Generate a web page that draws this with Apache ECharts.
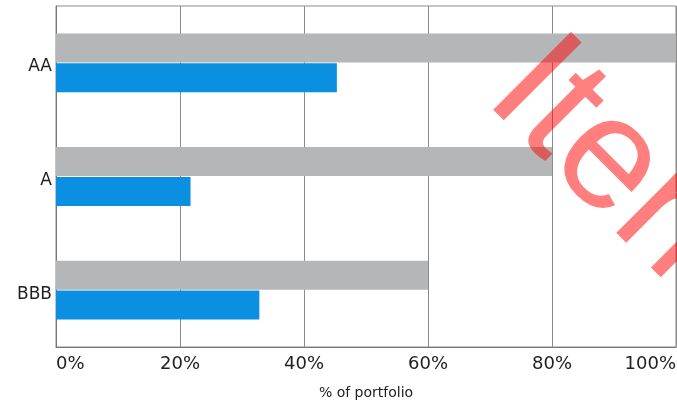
<!DOCTYPE html>
<html><head><meta charset="utf-8">
<script src="https://cdn.jsdelivr.net/npm/echarts@6/dist/echarts.min.js"></script>
<style>html,body{margin:0;padding:0;background:#fff}#c{width:677px;height:404px}</style>
</head><body><div id="c"></div>
<script>
const categories = ['AA', 'A', 'BBB'];
const benchmarkValues = [100, 80, 60];
const portfolioValues = [45.3, 21.7, 32.8];
const tickLabels = ['0%', '20%', '40%', '60%', '80%', '100%'];

const chart = echarts.init(document.getElementById('c'));
chart.setOption({
  animation: false,
  grid: { left: 56, right: 1, top: 6, bottom: 57, outerBoundsMode: 'none', containLabel: false, show: true, borderColor: '#8c8c8c', borderWidth: 1, backgroundColor: 'transparent' },
  xAxis: {
    type: 'value', min: 0, max: 100, interval: 20,
    name: '% of portfolio', nameLocation: 'middle', nameGap: 39,
    nameTextStyle: { fontFamily: 'DejaVu Sans', fontSize: 14, color: '#222' },
    axisLine: { show: true, lineStyle: { color: '#777', width: 1 } },
    axisTick: { show: false },
    splitLine: { show: true, lineStyle: { color: '#8c8c8c', width: 1 } },
    axisLabel: {
      margin: 8, fontFamily: 'DejaVu Sans', fontSize: 18, color: '#222',
      alignMinLabel: 'left', alignMaxLabel: 'right',
      formatter: v => tickLabels[Math.round(v / 20)]
    }
  },
  yAxis: {
    type: 'category', data: categories, inverse: true,
    axisLine: { show: true, lineStyle: { color: '#777' } },
    axisTick: { show: false },
    axisLabel: { margin: 4, verticalAlign: 'top', lineHeight: 8, fontFamily: 'DejaVu Sans', fontSize: 17, color: '#222' }
  },
  series: [
    { type: 'bar', data: benchmarkValues, barWidth: 29, barGap: '3%', itemStyle: { color: '#b5b6b8' } },
    { type: 'bar', data: portfolioValues, barWidth: 29, barGap: '3%', itemStyle: { color: '#0b8fe0' } }
  ],
  graphic: [{
    type: 'text', x: 514, y: 68, rotation: -Math.PI / 4, z: 100,
    style: { text: 'Item', fontFamily: 'Liberation Sans', fontSize: 160, fill: 'rgba(255,0,0,0.5)', verticalAlign: 'middle', align: 'left' }
  }]
});
</script></body></html>
